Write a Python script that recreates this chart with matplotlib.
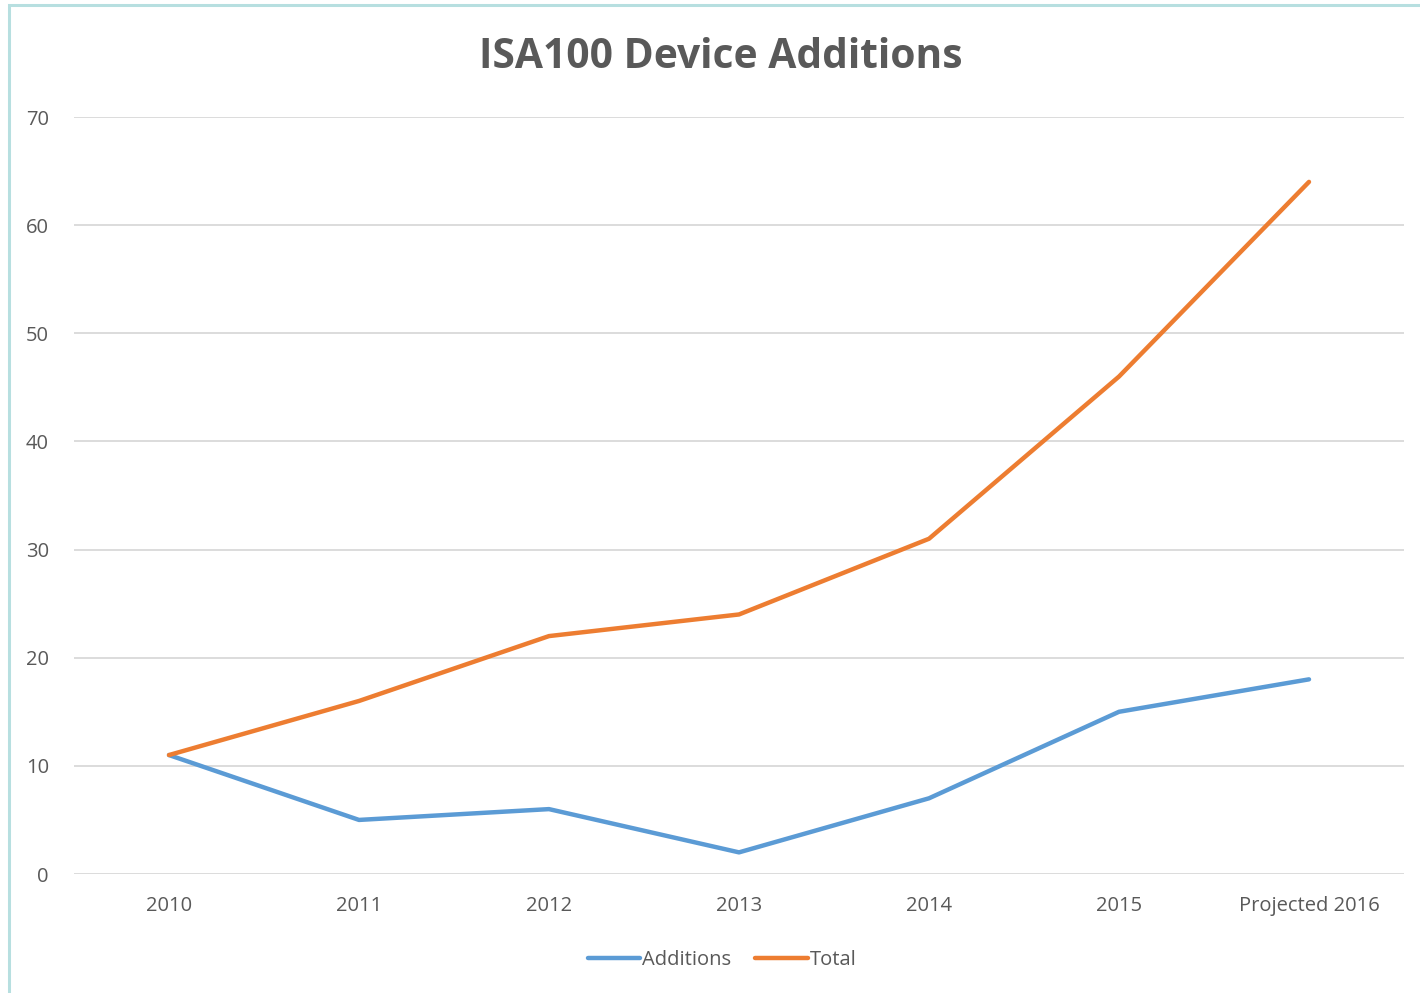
import matplotlib
matplotlib.use("Agg")
import matplotlib.pyplot as plt
from matplotlib.patches import Rectangle
from matplotlib.lines import Line2D

categories = ["2010", "2011", "2012", "2013", "2014", "2015", "Projected 2016"]
additions = [11, 5, 6, 2, 7, 15, 18]
total = [11, 16, 22, 24, 31, 46, 64]

plt.rcParams['font.family'] = ['Open Sans', 'DejaVu Sans']

W, H = 1420, 993
fig = plt.figure(figsize=(W / 100, H / 100), dpi=100)
fig.patch.set_facecolor("white")

# outer border (left and top visible)
fig.patches.append(Rectangle((8.5 / W, -0.1), 1.2, 1 - 4.5 / H + 0.1,
                             transform=fig.transFigure, fill=False,
                             edgecolor="#b7dfe0", linewidth=2.2, zorder=0))

ax = fig.add_axes([74 / W, 1 - 874 / H, (1404 - 74) / W, (874 - 117) / H])
x = list(range(len(categories)))
ax.plot(x, additions, color="#5B9BD5", lw=3.2, solid_capstyle="round", label="Additions", zorder=3)
ax.plot(x, total, color="#ED7D31", lw=3.2, solid_capstyle="round", label="Total", zorder=3)

ax.set_xlim(-0.5, len(categories) - 0.5)
ax.set_ylim(0, 70)
ax.set_yticks(range(0, 71, 10))
ax.set_xticks(x)
ax.set_xticklabels(categories)
ax.grid(axis="y", color="#d9d9d9", lw=1.3)
ax.set_axisbelow(True)
for s in ax.spines.values():
    s.set_visible(False)
ax.tick_params(axis="both", length=0, labelsize=14.5, colors="#595959")
ax.tick_params(axis="y", pad=18)
ax.tick_params(axis="x", pad=16)

fig.text(721 / W, 1 - 58 / H, "ISA100 Device Additions", ha="center", va="center",
         fontsize=29.3, fontweight="bold", color="#595959")

handles = [Line2D([], [], color="#5B9BD5", lw=3.2, solid_capstyle="round"),
           Line2D([], [], color="#ED7D31", lw=3.2, solid_capstyle="round")]
fig.legend(handles, ["Additions", "Total"], loc="center", bbox_to_anchor=(722 / W, 1 - 960 / H),
           ncol=2, frameon=False, fontsize=14.5, labelcolor="#595959",
           handlelength=2.6, handletextpad=0.1, columnspacing=1.2)

fig.savefig("out.png", dpi=100)
